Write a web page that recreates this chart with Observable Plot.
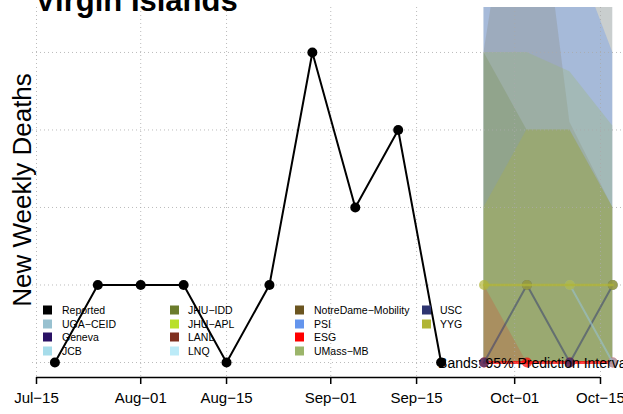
<!DOCTYPE html>
<html><head><meta charset="utf-8">
<script src="https://cdn.jsdelivr.net/npm/d3@7"></script>
<script src="https://cdn.jsdelivr.net/npm/@observablehq/plot@0.6"></script>
<style>
body{margin:0;background:#fff;font-family:"Liberation Sans",Arial,Helvetica,sans-serif;}
#wrap{position:relative;width:623px;height:414px;overflow:hidden;}
#wrap svg{position:absolute;left:0;top:0;}
</style></head>
<body><div id="wrap"></div>
<script>
// ---- data ----
const titleText = "Virgin Islands";
const yLabel = "New Weekly Deaths";
const reportedDates = ["2020-07-18","2020-07-25","2020-08-01","2020-08-08","2020-08-15","2020-08-22","2020-08-29","2020-09-05","2020-09-12","2020-09-19"];
const reportedDeaths = [0,1,1,1,0,1,4,2,3,0];
const forecastDates = ["2020-09-26","2020-10-03","2020-10-10","2020-10-17"];
const tickDates = ["2020-07-15","2020-08-01","2020-08-15","2020-09-01","2020-09-15","2020-10-01","2020-10-15"];
const tickLabels = ["Jul\u221215","Aug\u221201","Aug\u221215","Sep\u221201","Sep\u221215","Oct\u221201","Oct\u221215"];
const gridValues = [0,1,2,3,4];

// 95% prediction bands (drawn in this order)
const bandModels = ["LNQ","LANL","PSI","NotreDame-Mobility","UMass-MB","JHU-IDD","YYG","JHU-APL","ESG"];
const bandLower = [[0,0,0,0],[0,0,0,0],[0,0,0,0],[0,0,0,0],[0,0,0,0],[0,0,0,0],[0,0,0,0],[0,0,0,0],[0,0,0,0]];
const bandUpper = [[8,8,8,8],[8,8,8,8],[8,8,5.46,4],[4,7.5,3.1,2],[4,4,3.75,3.05],[4,3,3,2],[2,3,3,2],[2,2,2,2],[1,0,0,0]];

// point forecasts
const pointModels = ["ESG","USC","UGA-CEID","YYG"];
const pointValues = [[0,0,0,0],[0,1,0,1],[null,null,1,0],[1,1,1,1]];

// legend
const legendModels = ["Reported","UGA\u2212CEID","Geneva","JCB","JHU\u2212IDD","JHU\u2212APL","LANL","LNQ","NotreDame\u2212Mobility","PSI","ESG","UMass\u2212MB","USC","YYG"];
const legendKeys = ["Reported","UGA-CEID","Geneva","JCB","JHU-IDD","JHU-APL","LANL","LNQ","NotreDame-Mobility","PSI","ESG","UMass-MB","USC","YYG"];
const modelColors = ["#000000","#98c1d0","#2a1265","#a6dcea","#6b7c2c","#b9e02a","#7f3020","#bcebf8","#6b5520","#6495ed","#ff0000","#9bb56a","#2e3570","#b1b535"];
const annotation = "Bands: 95% Prediction Intervals";

// ---- styles ----
const colorOf = Object.fromEntries(legendKeys.map((k,i)=>[k,modelColors[i]]));
const bandOpacity = {"LNQ":0.5,"LANL":0.2,"PSI":0.35,"NotreDame-Mobility":0.15,"UMass-MB":0.3,"JHU-IDD":0.2,"YYG":0.28,"JHU-APL":0.03,"ESG":0.15};
const lineStyle = {"ESG":{w:3,o:0.75},"USC":{w:2,o:0.5},"UGA-CEID":{w:2,o:0.6},"YYG":{w:2.5,o:0.75}};

const parse = s => new Date(s+"T00:00:00Z");
const W = 623, H = 414;
const yDomain = [-0.1935, 4.58];

const reported = reportedDates.map((d,i)=>({date:parse(d), v:reportedDeaths[i]}));
const bandMarks = bandModels.map((m,bi)=>Plot.areaY(
  forecastDates.map((d,i)=>({date:parse(d), lo:bandLower[bi][i], hi:bandUpper[bi][i]})),
  {x:"date", y1:"lo", y2:"hi", fill:colorOf[m], fillOpacity:bandOpacity[m], clip:true, curve:"linear"}));
const pointMarks = pointModels.flatMap((m,pi)=>{
  const rows = forecastDates.map((d,i)=>({date:parse(d), v:pointValues[pi][i]})).filter(r=>r.v!=null);
  const st = lineStyle[m];
  return [
    Plot.line(rows,{x:"date",y:"v",stroke:colorOf[m],strokeOpacity:st.o,strokeWidth:st.w}),
    Plot.dot(rows,{x:"date",y:"v",r:5,fill:colorOf[m],fillOpacity:0.7,stroke:"none"})
  ];
});

const chart = Plot.plot({
  width: W, height: H,
  marginLeft: 32, marginRight: 0, marginTop: 7, marginBottom: 37,
  style: {fontFamily:'"Liberation Sans",Arial,Helvetica,sans-serif', background:"transparent"},
  x: {type:"utc", domain:[parse(tickDates[0]), parse(tickDates[tickDates.length-1])], range:[36,600]},
  y: {domain: yDomain, axis: null},
  marks: [
    ...bandMarks,
    Plot.gridY(gridValues,{stroke:"#aaa",strokeOpacity:0.8,strokeDasharray:"1,3",strokeWidth:1}),
    Plot.gridX(tickDates.map(parse),{stroke:"#aaa",strokeOpacity:0.8,strokeDasharray:"1,3",strokeWidth:1}),
    Plot.ruleY([yDomain[0]],{x1:parse(tickDates[0]),x2:parse(tickDates[tickDates.length-1]),stroke:"#000",strokeWidth:1.5}),
    Plot.axisX(tickDates.map(parse),{tickSize:7,tickPadding:8,fontSize:15,stroke:"#000",strokeWidth:1.5,
      tickFormat:(d)=>tickLabels[tickDates.map(parse).findIndex(t=>+t===+d)], label:null, color:"#000"}),
    ...pointMarks,
    Plot.line(reported,{x:"date",y:"v",stroke:"#000",strokeWidth:2}),
    Plot.dot(reported,{x:"date",y:"v",r:5,fill:"#000"}),
    Plot.text([annotation],{x:parse(reportedDates[reportedDates.length-1]),y:yDomain[0]+0.1935,text:d=>d,textAnchor:"start",dx:-3,dy:1,fontSize:14,fill:"#000"})
  ]
});
const wrap = document.getElementById("wrap");
wrap.appendChild(chart);

// overlay: title, y label, legend
const ov = d3.select(wrap).append("svg").attr("width",W).attr("height",H)
  .style("font-family",'"Liberation Sans",Arial,Helvetica,sans-serif');
ov.append("text").attr("x",35).attr("y",11).attr("font-size",31).attr("font-weight","bold").attr("fill","#000").text(titleText);
ov.append("text").attr("transform","translate(31,190) rotate(-90)").attr("text-anchor","middle")
  .attr("font-size",26).attr("fill","#000").text(yLabel);
const colX = [43,170,295,422], textX = [62,188,314,440], rowY = [310,324,337,351];
legendModels.forEach((name,i)=>{
  const c = Math.floor(i/4), r = i%4;
  ov.append("rect").attr("x",colX[c]).attr("y",rowY[r]-4.5).attr("width",9).attr("height",9).attr("fill",modelColors[i]);
  ov.append("text").attr("x",textX[c]).attr("y",rowY[r]+4).attr("font-size",10.5).attr("fill","#000").text(name);
});
</script></body></html>
